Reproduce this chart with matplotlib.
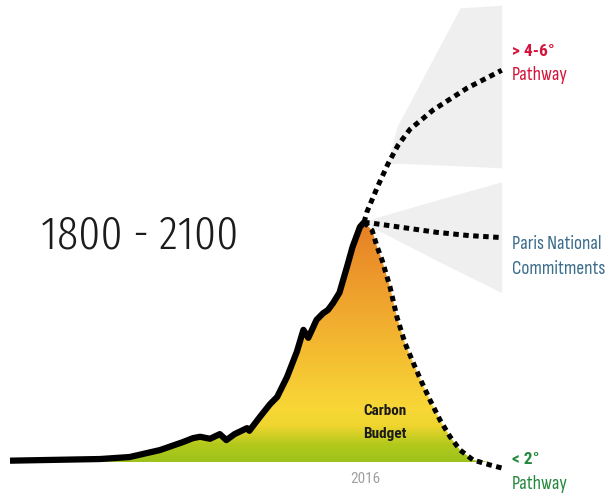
import numpy as np
import matplotlib
matplotlib.use("Agg")
import matplotlib.pyplot as plt
from matplotlib.colors import LinearSegmentedColormap

# ---------------- data ----------------
hist_years = [1800, 1855, 1873, 1891.5, 1905.5, 1911.7, 1916, 1922, 1928, 1932,
              1937, 1944.6, 1946, 1952.5, 1958.6, 1963, 1969, 1975, 1979, 1982,
              1987, 1991, 1994, 1997, 2001, 2005.6, 2009, 2013.5, 2016]
hist_vals = [0.2, 0.45, 0.75, 1.8, 3.0, 3.6, 3.8, 3.5, 4.2, 3.3,
             4.2, 5.1, 4.7, 6.8, 8.7, 9.8, 12.8, 16.6, 19.9, 18.7,
             21.4, 22.4, 22.9, 23.9, 25.5, 29.4, 32.4, 35.4, 36.1]

hot_years = [2016, 2017.8, 2024.5, 2030.6, 2036.7, 2044.0, 2058.1, 2078.8, 2100]
hot_vals = [36.1, 37.7, 41.6, 44.9, 47.7, 50.1, 53.0, 56.3, 59.0]

paris_years = [2016, 2020, 2040, 2060, 2080, 2100]
paris_vals = [36.1, 36.0, 35.3, 34.6, 34.1, 33.8]

low_years = [2016, 2020.9, 2024, 2027, 2031.8, 2036.1, 2041, 2045.9, 2051.4,
             2056.3, 2062.4, 2068.5, 2074.6, 2082.5, 2092.9, 2100]
low_vals = [36.1, 34.9, 32.4, 30.4, 26.4, 21.8, 17.9, 15.0, 11.9,
            9.3, 6.3, 3.8, 1.8, 0.3, -0.45, -0.9]

# uncertainty fans
hot_fan_years = [2030.6, 2036.1, 2074.6, 2100]
hot_fan_low = [44.9, 45.0, 44.6, 44.3]
hot_fan_high = [45.1, 50.5, 68.4, 68.8]

paris_fan_years = [2016, 2024.5, 2062.4, 2100]
paris_fan_low = [36.1, 34.9, 30.1, 25.5]
paris_fan_high = [36.1, 36.9, 39.6, 42.2]

title_text = "1800 - 2100"
peak_label = "2016"

# ---------------- figure ----------------
W, H = 605, 496
fig = plt.figure(figsize=(W / 100, H / 100), dpi=100)
ax = fig.add_axes([0, 0, 1, 1])
XL, YL = (1793.9, 2163.0), (-5.12, 69.58)
ax.axis("off")

fan_color = "#efefef"
ax.fill_between(hot_fan_years, hot_fan_low, hot_fan_high, color=fan_color, lw=0, zorder=1)
ax.fill_between(paris_fan_years, paris_fan_low, paris_fan_high, color=fan_color, lw=0, zorder=1)

# carbon budget area with vertical gradient
all_years = np.array(hist_years + low_years[1:])
all_vals = np.array(hist_vals + low_vals[1:])
poly = ax.fill_between(all_years, 0, np.maximum(all_vals, 0), color="none", lw=0, zorder=2)
cmap = LinearSegmentedColormap.from_list(
    "budget",
    [(0.0, "#9dc31a"), (0.07, "#b2c91c"), (0.15, "#efd52e"), (0.22, "#f8d737"),
     (0.45, "#f4bd31"), (0.72, "#ee9f2d"), (1.0, "#e67f24")])
grad = np.linspace(0, 1, 256).reshape(-1, 1)
img = ax.imshow(grad, cmap=cmap, origin="lower", aspect="auto",
                extent=[1800, 2100, 0, max(hist_vals)], zorder=2)
img.set_clip_path(poly.get_paths()[0], transform=ax.transData)
ax.set_xlim(*XL)
ax.set_ylim(*YL)

# lines
ax.plot(hist_years, hist_vals, color="black", lw=4.5, solid_capstyle="butt",
        solid_joinstyle="round", zorder=5)
dot = dict(color="black", lw=3.6, linestyle=(0, (1.1, 0.9)), dash_capstyle="butt", zorder=4)
ax.plot(hot_years, hot_vals, **dot)
ax.plot(paris_years, paris_vals, **dot)
ax.plot(low_years, low_vals, **dot)

# ---------------- texts ----------------
def px(x, y):
    return x / W, 1 - y / H

fig.text(*px(140, 236), title_text, fontsize=34,
         family=["Fira Sans Extra Condensed", "Barlow Condensed", "DejaVu Sans"],
         fontweight=300, color="#1c1c1c", ha="center", va="center")

lab = dict(family=["Sofia Sans Condensed", "Roboto Condensed", "DejaVu Sans"],
           ha="left", va="center", fontsize=14)
labb = dict(family=["Roboto Condensed", "DejaVu Sans"], ha="left", va="center",
            fontsize=12.5, fontweight="bold")
red, blue, green = "#d4143c", "#3b6d8c", "#23893d"
fig.text(*px(512, 51), "> 4-6°", color=red, **labb)
fig.text(*px(512, 75), "Pathway", color=red, **lab)
fig.text(*px(512, 244), "Paris National", color=blue, **lab)
fig.text(*px(512, 269), "Commitments", color=blue, **lab)
fig.text(*px(512, 459), "< 2°", color=green, **labb)
fig.text(*px(512, 484), "Pathway", color=green, **lab)

small = dict(family=["Roboto Condensed", "DejaVu Sans"], ha="center", va="center")
fig.text(*px(385, 411), "Carbon", fontsize=11, fontweight="bold", color="#1a1a1a", **small)
fig.text(*px(385, 434), "Budget", fontsize=11, fontweight="bold", color="#1a1a1a", **small)
fig.text(*px(365, 479), peak_label, fontsize=11, color="#a0a0a0", **small)

fig.savefig("out.png", dpi=100)
